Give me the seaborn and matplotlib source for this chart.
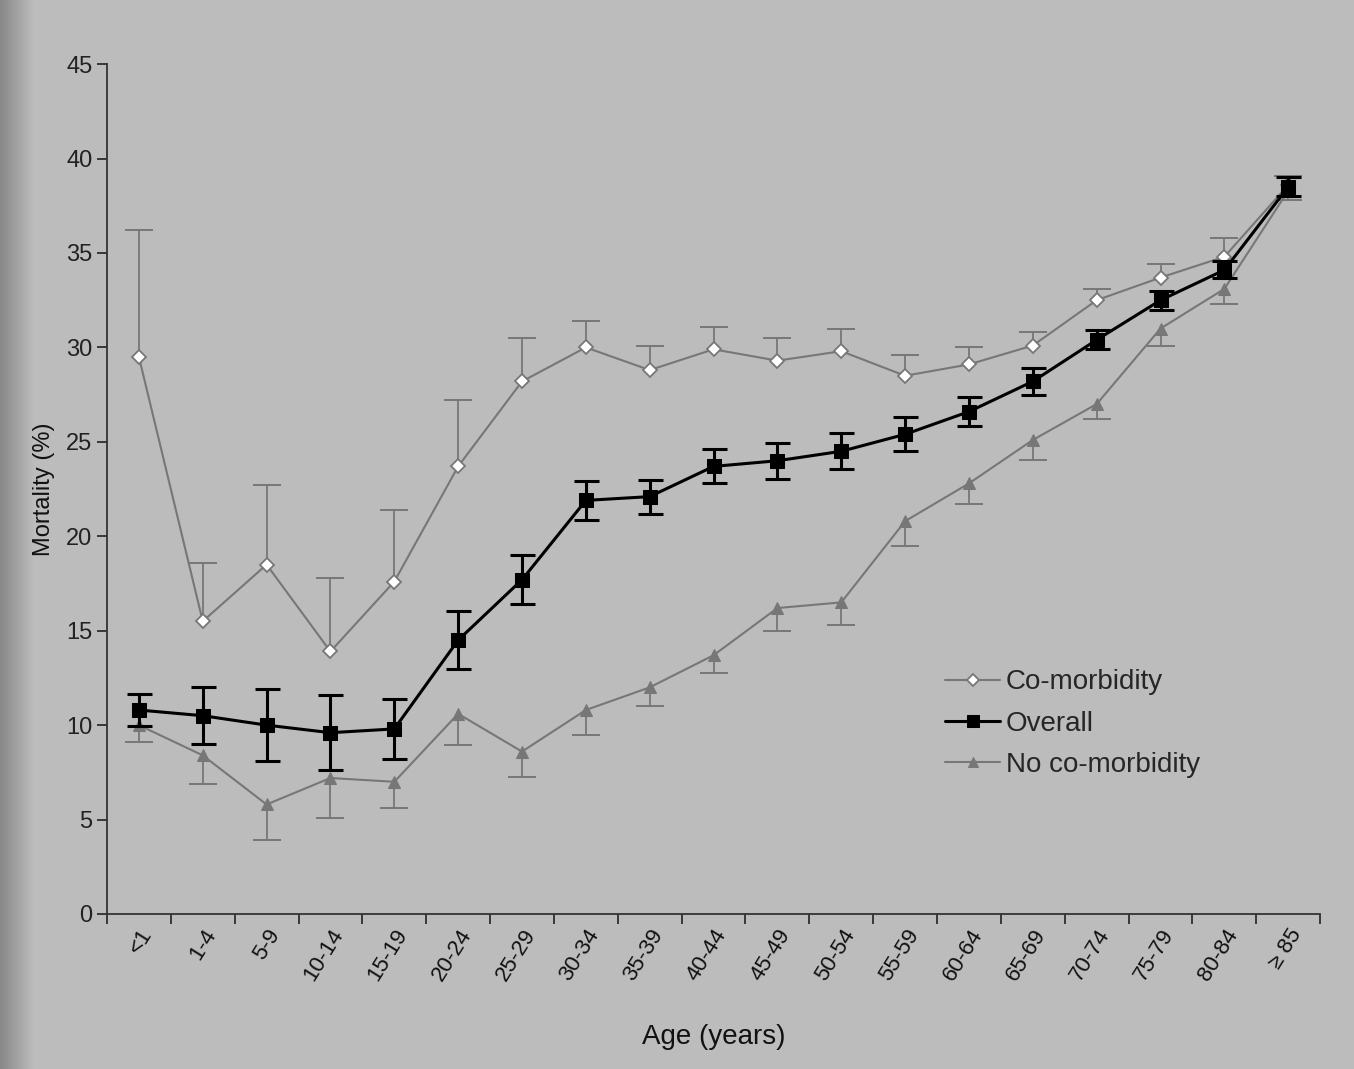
import numpy as np
import pandas as pd
import matplotlib
matplotlib.use("Agg")
import matplotlib.pyplot as plt
import seaborn as sns

# Age groups
ages = ["<1", "1-4", "5-9", "10-14", "15-19", "20-24", "25-29", "30-34", "35-39",
        "40-44", "45-49", "50-54", "55-59", "60-64", "65-69", "70-74", "75-79",
        "80-84", "\u2265 85"]

# Mortality (%)
comorb = [29.5, 15.5, 18.5, 13.9, 17.6, 23.7, 28.2, 30.0, 28.8, 29.9, 29.3, 29.8,
          28.5, 29.1, 30.1, 32.5, 33.7, 34.8, 38.6]
comorb_err = [6.7, 3.1, 4.2, 3.9, 3.8, 3.5, 2.3, 1.4, 1.3, 1.2, 1.2, 1.2,
              1.1, 0.9, 0.7, 0.6, 0.7, 1.0, 0.5]

overall = [10.8, 10.5, 10.0, 9.6, 9.8, 14.5, 17.7, 21.9, 22.1, 23.7, 24.0, 24.5,
           25.4, 26.6, 28.2, 30.4, 32.5, 34.1, 38.5]
overall_err = [0.85, 1.5, 1.9, 2.0, 1.6, 1.55, 1.3, 1.05, 0.9, 0.9, 0.95, 0.95,
               0.9, 0.75, 0.7, 0.5, 0.5, 0.45, 0.5]

no_comorb = [10.0, 8.4, 5.8, 7.2, 7.0, 10.6, 8.6, 10.8, 12.0, 13.7, 16.2, 16.5,
             20.8, 22.8, 25.1, 27.0, 31.0, 33.1, 38.3]
no_comorb_err = [0.9, 1.5, 1.9, 2.1, 1.4, 1.65, 1.35, 1.3, 1.0, 0.95, 1.2, 1.2,
                 1.3, 1.1, 1.05, 0.8, 0.95, 0.8, 0.5]

bg = "#bcbcbc"
grey = "#777777"

sns.set_theme(style="ticks")
plt.rcParams["font.family"] = ["Liberation Sans", "DejaVu Sans"]

x = np.arange(len(ages))
df = pd.DataFrame({"x": x, "co": comorb, "ov": overall, "no": no_comorb})

fig = plt.figure(figsize=(13.54, 10.69), dpi=100, facecolor=bg)

# soft scan shadow on the left edge
shade = fig.add_axes([0, 0, 0.025, 1], zorder=-5)
shade.imshow(np.linspace(0.72, 1, 50)[None, :], cmap="gray", vmin=0, vmax=1.355,
             aspect="auto", extent=[0, 1, 0, 1])
shade.set_axis_off()

ax = fig.add_axes([0.079, 0.145, 0.896, 0.795], facecolor=bg)

# one-sided error bars: co-morbidity upward, no co-morbidity downward
zeros = np.zeros(len(x))
co_top = np.array(comorb) + np.array(comorb_err)
no_bot = np.array(no_comorb) - np.array(no_comorb_err)
ax.errorbar(x, comorb, yerr=[zeros, comorb_err], fmt="none", ecolor=grey,
            elinewidth=1.3, capsize=0, zorder=2)
ax.plot(x, co_top, ls="none", marker="_", ms=20, mew=1.4, color=grey, zorder=2)
ax.errorbar(x, no_comorb, yerr=[no_comorb_err, zeros], fmt="none", ecolor=grey,
            elinewidth=1.3, capsize=0, zorder=2)
ax.plot(x, no_bot, ls="none", marker="_", ms=20, mew=1.4, color=grey, zorder=2)
ax.errorbar(x, overall, yerr=overall_err, fmt="none", ecolor="black",
            elinewidth=2.2, capsize=9, capthick=2.2, zorder=4)

sns.lineplot(data=df, x="x", y="co", ax=ax, color=grey, lw=1.5, marker="D",
             markersize=7, markerfacecolor="white", markeredgecolor=grey,
             markeredgewidth=1.3, label="Co-morbidity", zorder=3)
sns.lineplot(data=df, x="x", y="ov", ax=ax, color="black", lw=2.2, marker="s",
             markersize=10, markerfacecolor="black", markeredgecolor="black",
             label="Overall", zorder=5)
sns.lineplot(data=df, x="x", y="no", ax=ax, color=grey, lw=1.5, marker="^",
             markersize=8, markerfacecolor=grey, markeredgecolor=grey,
             label="No co-morbidity", zorder=3)

ax.set_xlim(-0.5, len(ages) - 0.5)
ax.set_ylim(0, 45)
ax.set_yticks(np.arange(0, 46, 5))
ax.tick_params(axis="y", labelsize=17, length=7, width=1.2, colors="#222222")

# ticks at category boundaries, labels at centres
ax.set_xticks(np.arange(-0.5, len(ages), 1.0))
ax.set_xticklabels([])
ax.set_xticks(x, minor=True)
ax.set_xticklabels(ages, minor=True, rotation=58, ha="right",
                   rotation_mode="anchor", fontsize=16)
ax.tick_params(axis="x", which="major", length=7, width=1.2, colors="#222222")
ax.tick_params(axis="x", which="minor", length=0, pad=8, labelcolor="#111111")

sns.despine(ax=ax)
for s in ["left", "bottom"]:
    ax.spines[s].set_color("#333333")
    ax.spines[s].set_linewidth(1.3)

ax.set_xlabel("Age (years)", fontsize=20, labelpad=28, color="#111111")
ax.set_ylabel("Mortality (%)", fontsize=17, labelpad=8, color="#111111")

leg = ax.legend(loc="center left", bbox_to_anchor=(0.67, 0.224), frameon=False,
                fontsize=20, handlelength=2.0, labelspacing=0.55,
                handletextpad=0.2, markerscale=0.9)

fig.savefig("out.png", dpi=100, facecolor=bg)
